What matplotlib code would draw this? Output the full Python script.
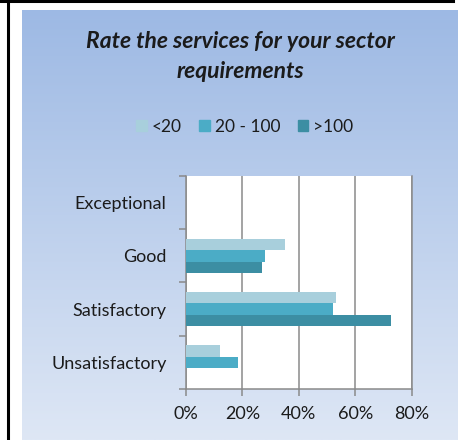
import numpy as np
import matplotlib
matplotlib.use('Agg')
import matplotlib.pyplot as plt
from matplotlib.lines import Line2D
from matplotlib.patches import Rectangle
from matplotlib.ticker import FixedLocator, PercentFormatter

# Data (percent of respondents)
categories = ['Exceptional', 'Good', 'Satisfactory', 'Unsatisfactory']
series_names = ['<20', '20 - 100', '>100']
under_20 = [0, 35, 53, 12]
from_20_to_100 = [0, 28, 52, 18.5]
over_100 = [0, 27, 72.6, 0]
x_ticks = [0, 20, 40, 60, 80]

colors = ['#a8cfdc', '#4bacc6', '#3c8ea3']
text_color = '#1b1b1b'

plt.rcParams['font.family'] = ['Lato', 'DejaVu Sans']

fig = plt.figure(figsize=(4.58, 4.40), dpi=100)
fig.patch.set_facecolor('white')

# gradient background of the chart area
bg = fig.add_axes([22 / 458, 0, 1 - 22 / 458, 1 - 10 / 440])
grad = np.linspace(0, 1, 256).reshape(-1, 1)
top_rgb = np.array([157, 185, 228]) / 255
bot_rgb = np.array([222, 231, 245]) / 255
img = top_rgb[None, None, :] * (1 - grad[:, :, None]) + bot_rgb[None, None, :] * grad[:, :, None]
bg.imshow(img, aspect='auto', extent=[0, 1, 0, 1])
bg.set_axis_off()

# black cell borders
fig.add_artist(Line2D([0, 453 / 458], [1 - 1.5 / 440, 1 - 1.5 / 440], color='black', lw=2.2))
fig.add_artist(Line2D([7.5 / 458, 7.5 / 458], [0, 1], color='black', lw=2.2))

ax = fig.add_axes([186 / 458, 1 - 389 / 440, (411.7 - 186) / 458, (389 - 176) / 440])
ax.set_facecolor('white')

y = -np.arange(len(categories))
h = 0.213
for vals, off, c, name in zip([under_20, from_20_to_100, over_100], [h, 0, -h], colors, series_names):
    ax.barh(y + off, vals, height=h, color=c, label=name, edgecolor='none', zorder=3)

ax.set_xlim(0, 80)
ax.set_ylim(-3.5, 0.5)
ax.xaxis.set_major_locator(FixedLocator(x_ticks))
ax.xaxis.set_major_formatter(PercentFormatter(decimals=0))
ax.grid(axis='x', color='#8a8a8a', lw=1.1, zorder=1)

ax.set_yticks(y)
ax.set_yticklabels(categories)
ax.yaxis.set_minor_locator(FixedLocator(np.arange(0.5, -4, -1)))
ax.tick_params(axis='y', which='major', length=0, pad=14, labelsize=13, labelcolor=text_color)
ax.tick_params(axis='y', which='minor', length=5, width=1.1, color='#8a8a8a')
ax.tick_params(axis='x', length=5, width=1.1, color='#8a8a8a', pad=7, labelsize=13, labelcolor=text_color)

for s in ['top']:
    ax.spines[s].set_visible(False)
for s in ['left', 'bottom', 'right']:
    ax.spines[s].set_color('#8a8a8a')
    ax.spines[s].set_linewidth(1.1)

fig.text(240 / 458, 1 - 41 / 440, 'Rate the services for your sector', ha='center', va='center',
         fontsize=16.5, fontweight='bold', fontstyle='italic', color=text_color)
fig.text(240 / 458, 1 - 72 / 440, 'requirements', ha='center', va='center',
         fontsize=16.5, fontweight='bold', fontstyle='italic', color=text_color)

handles = [Rectangle((0, 0), 1, 1, color=c) for c in colors]
fig.legend(handles, series_names, loc='center', bbox_to_anchor=(245 / 458, 1 - 127 / 440), ncol=3,
           frameon=False, handlelength=0.6, handleheight=0.6, handletextpad=0.3, columnspacing=1.0,
           prop={'size': 12.5}, labelcolor=text_color)

fig.savefig('out.png', dpi=100)
